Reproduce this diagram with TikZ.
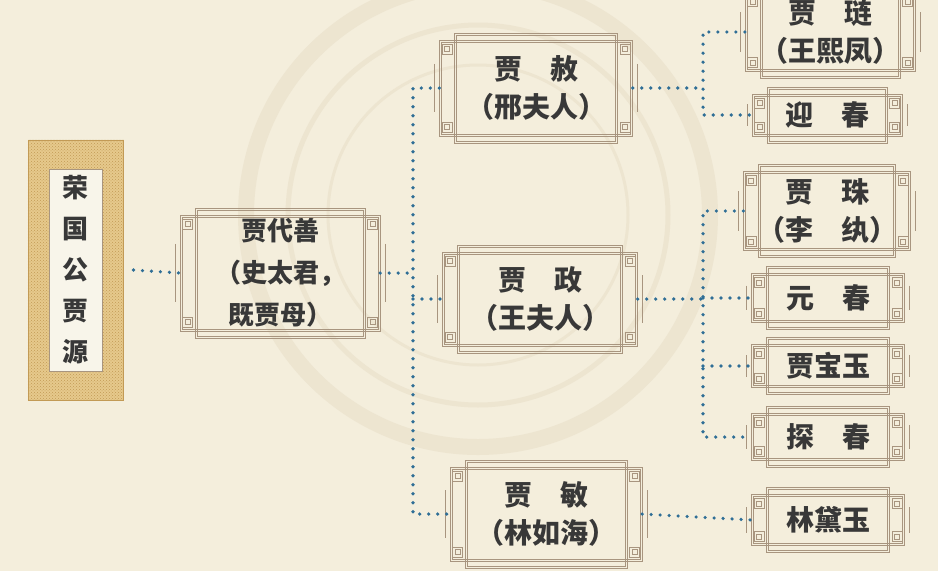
\documentclass[tikz,border=0pt]{standalone}
\usepackage{fontspec}
\newfontfamily\cjk{Noto Sans CJK SC}
\usepackage{tikz}
\usetikzlibrary{calc,patterns}

\definecolor{bgc}{HTML}{F4EEDC}
\definecolor{markc}{HTML}{EDE5D0}
\definecolor{framec}{HTML}{A8957F}
\definecolor{linkc}{HTML}{2F6E96}
\definecolor{textc}{HTML}{383838}
\definecolor{goldc}{HTML}{E6C98C}
\definecolor{golddk}{HTML}{C29A55}

%--- ornamental frame around a name box
\newcommand\ornframe[1]{%
  \coordinate (#1-wnw) at (#1.north west);
  \coordinate (#1-wse) at (#1.south east);
  \coordinate (#1-tnw) at ([xshift=15pt,yshift=7pt]#1.north west);
  \coordinate (#1-tse) at ([xshift=-15pt,yshift=-7pt]#1.south east);
  \foreach \r in {w,t}{
    \draw[frameline] (#1-\r nw) rectangle (#1-\r se);
    \draw[frameline] ([shift={(2pt,-2pt)}]#1-\r nw) rectangle ([shift={(-2pt,2pt)}]#1-\r se);
  }
  \draw[frameline] ($(#1.north west)!.25!(#1.south west)+(-5pt,0)$)
    -- ($(#1.north west)!.75!(#1.south west)+(-5pt,0)$);
  \draw[frameline] ($(#1.north east)!.25!(#1.south east)+(5pt,0)$)
    -- ($(#1.north east)!.75!(#1.south east)+(5pt,0)$);
  \coordinate (#1-q1) at ([xshift=7.5pt,yshift=-9pt]#1.north west);
  \coordinate (#1-q2) at ([xshift=-7.5pt,yshift=-9pt]#1.north east);
  \coordinate (#1-q3) at ([xshift=7.5pt,yshift=9pt]#1.south west);
  \coordinate (#1-q4) at ([xshift=-7.5pt,yshift=9pt]#1.south east);
  \foreach \q in {q1,q2,q3,q4}{
    \draw[frameline] ([shift={(-5pt,-5pt)}]#1-\q) rectangle ([shift={(5pt,5pt)}]#1-\q);
    \draw[frameline] ([shift={(-2.5pt,-2.5pt)}]#1-\q) rectangle ([shift={(2.5pt,2.5pt)}]#1-\q);
  }}

\begin{document}
\begin{tikzpicture}[x=1pt, y=-1pt,
    frameline/.style={draw=framec, line width=.6pt},
    person/.style={align=center, inner sep=0pt, text=textc,
      font=\cjk\bfseries\fontsize{28}{38}\selectfont},
    link/.style={linkc, line width=3.6pt, line cap=round, dash pattern=on 0pt off 9pt}]

  \useasboundingbox (0,0) rectangle (938,571);
  \clip (0,0) rectangle (938,571);
  \fill[bgc] (0,0) rectangle (938,571);

  %--- faint seal in the background
  \draw[markc, line width=16pt] (478,215) circle[radius=232];
  \draw[markc, line width=5pt] (478,215) circle[radius=190];
  \draw[markc, line width=3pt] (478,215) circle[radius=150];

  %--- founder
  \node[fill=goldc, draw=golddk, line width=1pt, minimum width=95pt, minimum height=260pt]
    (rongguo) at (75.5,270) {};
  \fill[pattern=crosshatch dots, pattern color=golddk] (rongguo.north west) rectangle (rongguo.south east);
  \node[fill=bgc!60!white, draw=framec, line width=1pt, minimum width=53pt, minimum height=202pt,
        align=center, inner sep=0pt, text=textc, font=\cjk\bfseries\fontsize{26}{41}\selectfont]
    (rongguo-txt) at (rongguo) {荣\\国\\公\\贾\\源};

  %--- second generation
  \node[person, minimum width=200pt, minimum height=116pt,
        font=\cjk\bfseries\fontsize{26}{42}\selectfont] (daishan) at (280,273)
    {贾代善\\（史太君，\\既贾母）};
  \ornframe{daishan}

  %--- third generation
  \node[person, minimum width=193pt, minimum height=96pt] (she) at (536,88) {贾　赦\\（邢夫人）};
  \node[person, minimum width=195pt, minimum height=94pt] (zheng) at (540,299) {贾　政\\（王夫人）};
  \node[person, minimum width=192pt, minimum height=94pt] (min) at (546,514) {贾　敏\\（林如海）};
  \ornframe{she}
  \ornframe{zheng}
  \ornframe{min}

  %--- fourth generation
  \node[person, minimum width=170pt, minimum height=79pt] (lian) at (830,32) {贾　琏\\（王熙凤）};
  \node[person, minimum width=150pt, minimum height=42pt] (yingchun) at (827,115) {迎　春};
  \node[person, minimum width=167pt, minimum height=79pt] (zhu) at (827,211) {贾　珠\\（李　纨）};
  \node[person, minimum width=153pt, minimum height=49pt] (yuanchun) at (828,298) {元　春};
  \node[person, minimum width=153pt, minimum height=43pt] (baoyu) at (828,366) {贾宝玉};
  \node[person, minimum width=153pt, minimum height=47pt] (tanchun) at (828,437) {探　春};
  \node[person, minimum width=153pt, minimum height=51pt] (daiyu) at (828,520) {林黛玉};
  \foreach \n in {lian,yingchun,zhu,yuanchun,baoyu,tanchun,daiyu}{\ornframe{\n}}

  %--- dotted connectors
  \coordinate (trunkA) at (413,0);
  \coordinate (trunkB) at (703,0);
  \draw[link] ([xshift=10pt]rongguo.east) -- (daishan.west);
  \draw[link] (daishan.east) -- (daishan.east -| trunkA);
  \draw[link] (she.west) -- (she.west -| trunkA) -- (min.west -| trunkA) -- (min.west);
  \draw[link] (zheng.west -| trunkA) -- (zheng.west);

  \draw[link] (she.east) -- (she.east -| trunkB);
  \draw[link] (lian.west) -- (lian.west -| trunkB) -- (yingchun.west -| trunkB) -- (yingchun.west);

  \draw[link] (zheng.east) -- (zheng.east -| trunkB);
  \draw[link] (zhu.west) -- (zhu.west -| trunkB) -- (tanchun.west -| trunkB) -- (tanchun.west);
  \draw[link] (yuanchun.west -| trunkB) -- (yuanchun.west);
  \draw[link] (baoyu.west -| trunkB) -- (baoyu.west);

  \draw[link] (min.east) -- (daiyu.west);

\end{tikzpicture}
\end{document}
